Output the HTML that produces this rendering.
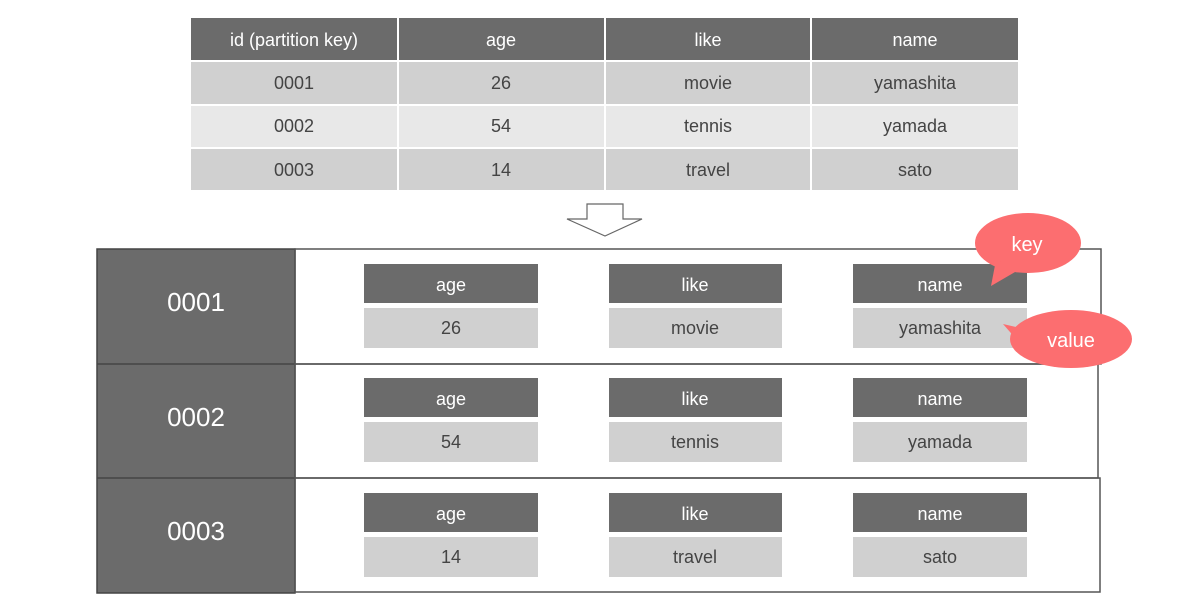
<!DOCTYPE html>
<html><head><meta charset="utf-8"><style>
html,body{margin:0;padding:0;background:#fff;}
svg{display:block;}
text{font-family:"Liberation Sans",sans-serif;}
</style></head><body>
<svg width="1200" height="614" viewBox="0 0 1200 614" xmlns="http://www.w3.org/2000/svg">
<!-- top table -->
<g font-size="18" text-anchor="middle">
<rect x="191" y="18" width="206" height="42" fill="#6b6b6b"/>
<rect x="399" y="18" width="205" height="42" fill="#6b6b6b"/>
<rect x="606" y="18" width="204" height="42" fill="#6b6b6b"/>
<rect x="812" y="18" width="206" height="42" fill="#6b6b6b"/>
<text x="294" y="46" fill="#fff">id (partition key)</text>
<text x="501" y="46" fill="#fff">age</text>
<text x="708" y="46" fill="#fff">like</text>
<text x="915" y="46" fill="#fff">name</text>
<g fill="#d0d0d0">
<rect x="191" y="62" width="206" height="42"/><rect x="399" y="62" width="205" height="42"/><rect x="606" y="62" width="204" height="42"/><rect x="812" y="62" width="206" height="42"/>
<rect x="191" y="149" width="206" height="41"/><rect x="399" y="149" width="205" height="41"/><rect x="606" y="149" width="204" height="41"/><rect x="812" y="149" width="206" height="41"/>
</g>
<g fill="#e8e8e8">
<rect x="191" y="106" width="206" height="41"/><rect x="399" y="106" width="205" height="41"/><rect x="606" y="106" width="204" height="41"/><rect x="812" y="106" width="206" height="41"/>
</g>
<g fill="#444">
<text x="294" y="89">0001</text><text x="501" y="89">26</text><text x="708" y="89">movie</text><text x="915" y="89">yamashita</text>
<text x="294" y="132">0002</text><text x="501" y="132">54</text><text x="708" y="132">tennis</text><text x="915" y="132">yamada</text>
<text x="294" y="176">0003</text><text x="501" y="176">14</text><text x="708" y="176">travel</text><text x="915" y="176">sato</text>
</g>
</g>
<!-- arrow -->
<path d="M587 204 L623 204 L623 219 L642 219 L605 236 L567 219 L587 219 Z" fill="#fff" stroke="#666" stroke-width="1.2"/>
<!-- bottom frames -->
<rect x="97" y="249" width="198" height="344" fill="#6b6b6b" stroke="#444" stroke-width="1.5"/>
<line x1="97" y1="364" x2="295" y2="364" stroke="#444" stroke-width="1.5"/>
<line x1="97" y1="478" x2="295" y2="478" stroke="#444" stroke-width="1.5"/>
<g fill="none" stroke="#555" stroke-width="1.5">
<rect x="295" y="249" width="806" height="115"/>
<rect x="295" y="364" width="803" height="114"/>
<rect x="295" y="478" width="805" height="114"/>
</g>
<g font-size="26" fill="#fff" text-anchor="middle">
<text x="196" y="311">0001</text>
<text x="196" y="426">0002</text>
<text x="196" y="540">0003</text>
</g>
<g font-size="18" text-anchor="middle">
<g fill="#6b6b6b">
<rect x="364" y="264" width="174" height="39"/><rect x="609" y="264" width="173" height="39"/><rect x="853" y="264" width="174" height="39"/>
<rect x="364" y="378" width="174" height="39"/><rect x="609" y="378" width="173" height="39"/><rect x="853" y="378" width="174" height="39"/>
<rect x="364" y="493" width="174" height="39"/><rect x="609" y="493" width="173" height="39"/><rect x="853" y="493" width="174" height="39"/>
</g>
<g fill="#d0d0d0">
<rect x="364" y="308" width="174" height="40"/><rect x="609" y="308" width="173" height="40"/><rect x="853" y="308" width="174" height="40"/>
<rect x="364" y="422" width="174" height="40"/><rect x="609" y="422" width="173" height="40"/><rect x="853" y="422" width="174" height="40"/>
<rect x="364" y="537" width="174" height="40"/><rect x="609" y="537" width="173" height="40"/><rect x="853" y="537" width="174" height="40"/>
</g>
<g fill="#fff">
<text x="451" y="291">age</text><text x="695" y="291">like</text><text x="940" y="291">name</text>
<text x="451" y="405">age</text><text x="695" y="405">like</text><text x="940" y="405">name</text>
<text x="451" y="520">age</text><text x="695" y="520">like</text><text x="940" y="520">name</text>
</g>
<g fill="#444">
<text x="451" y="334">26</text><text x="695" y="334">movie</text><text x="940" y="334">yamashita</text>
<text x="451" y="448">54</text><text x="695" y="448">tennis</text><text x="940" y="448">yamada</text>
<text x="451" y="563">14</text><text x="695" y="563">travel</text><text x="940" y="563">sato</text>
</g>
</g>
<!-- bubbles -->
<g fill="#fc6e70">
<ellipse cx="1028" cy="243" rx="53" ry="30"/>
<path d="M996 260 L991 286 L1022 268 Z"/>
<ellipse cx="1071" cy="339" rx="61" ry="29"/>
<path d="M1020 328 L1003 324 L1024 348 Z"/>
</g>
<g font-size="20" fill="#fff" text-anchor="middle">
<text x="1027" y="251">key</text>
<text x="1071" y="347">value</text>
</g>
</svg>
</body></html>
